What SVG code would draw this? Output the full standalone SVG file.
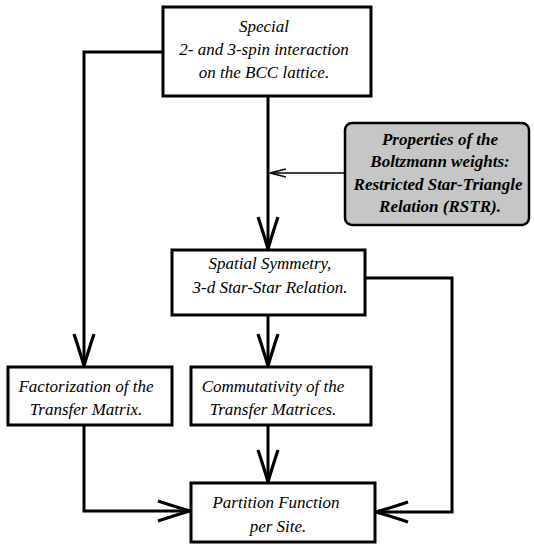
<svg xmlns="http://www.w3.org/2000/svg" width="534" height="545" viewBox="0 0 534 545">
<style>
.box{fill:#fff;stroke:#000;stroke-width:3}
.gbox{fill:#c6c6c6;stroke:#000;stroke-width:2.5}
.t{font-family:"Liberation Serif","Times New Roman",serif;font-style:italic;font-size:17px;text-anchor:middle;fill:#000}
.tb{font-weight:bold}
.c{fill:none;stroke:#000;stroke-width:3;stroke-linejoin:miter}
.thin{fill:none;stroke:#000;stroke-width:1.5}
</style>
<defs>
<marker id="ah" viewBox="0 0 36 24" refX="34" refY="12" markerWidth="36" markerHeight="24" markerUnits="userSpaceOnUse" orient="auto">
<path d="M2,2 Q20,8 34,12 Q20,16 2,22" fill="none" stroke="#000" stroke-width="3.2"/>
</marker>
<marker id="ahs" viewBox="0 0 18 10" refX="17" refY="5" markerWidth="18" markerHeight="10" markerUnits="userSpaceOnUse" orient="auto">
<path d="M1,1 L17,5 L1,9" fill="none" stroke="#000" stroke-width="1.5"/>
</marker>
</defs>
<g id="connectors">
<path class="c" d="M163,52 H84 V366" marker-end="url(#ah)"/>
<path class="c" d="M84,425 V511 H190" marker-end="url(#ah)"/>
<path class="c" d="M268,96 V249" marker-end="url(#ah)"/>
<path class="thin" d="M345,173 H270" marker-end="url(#ahs)"/>
<path class="c" d="M268,315 V366" marker-end="url(#ah)"/>
<path class="c" d="M365,278 H452 V512 H376" marker-end="url(#ah)"/>
<path class="c" d="M268,425 V482" marker-end="url(#ah)"/>
</g>
<g id="n-top">
<rect class="box" x="163" y="7" width="208" height="89"/>
<text class="t" x="264" y="32">Special</text>
<text class="t" x="264" y="55">2- and 3-spin interaction</text>
<text class="t" x="264" y="78">on the BCC lattice.</text>
</g>
<g id="n-props">
<rect class="gbox" x="345" y="123" width="184" height="102" rx="7"/>
<text class="t tb" x="440" y="145">Properties of the</text>
<text class="t tb" x="440" y="167">Boltzmann weights:</text>
<text class="t tb" x="438" y="190">Restricted Star-Triangle</text>
<text class="t tb" x="440" y="212">Relation (RSTR).</text>
</g>
<g id="n-spatial">
<rect class="box" x="172" y="250" width="193" height="65"/>
<text class="t" x="270" y="269">Spatial Symmetry,</text>
<text class="t" x="270" y="293">3-d Star-Star Relation.</text>
</g>
<g id="n-fact">
<rect class="box" x="8" y="367" width="164" height="58"/>
<text class="t" x="86" y="392">Factorization of the</text>
<text class="t" x="86" y="415">Transfer Matrix.</text>
</g>
<g id="n-comm">
<rect class="box" x="191" y="367" width="180" height="58"/>
<text class="t" x="273" y="392">Commutativity of the</text>
<text class="t" x="273" y="415">Transfer Matrices.</text>
</g>
<g id="n-part">
<rect class="box" x="191" y="483" width="184" height="59"/>
<text class="t" x="276" y="508">Partition Function</text>
<text class="t" x="278" y="532">per Site.</text>
</g>
</svg>
